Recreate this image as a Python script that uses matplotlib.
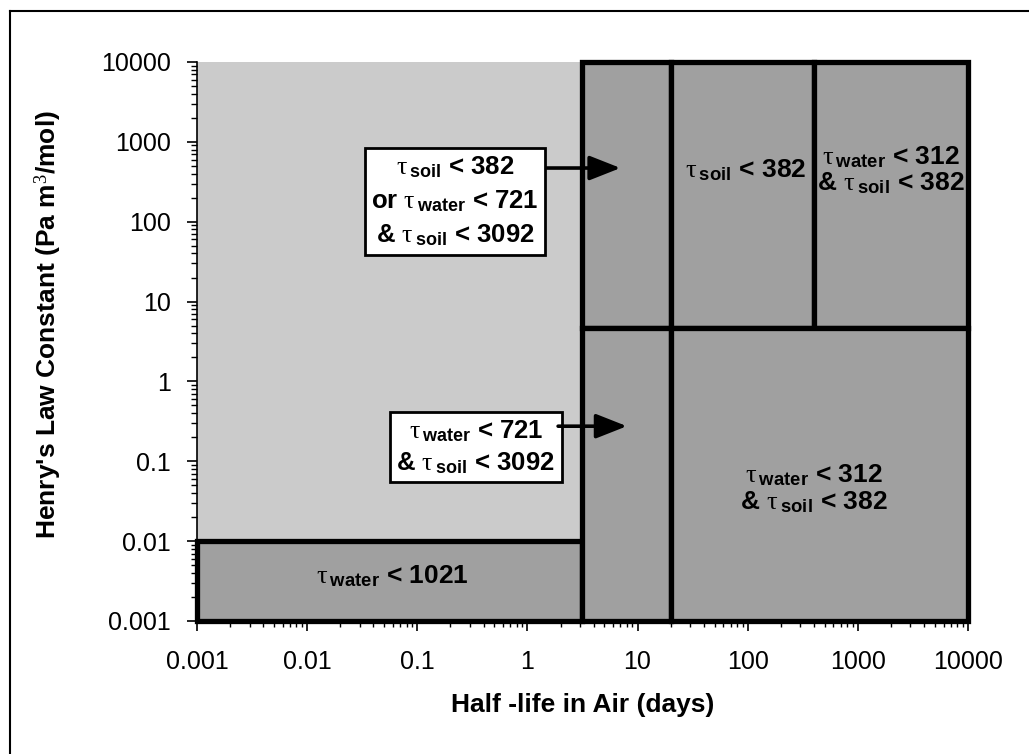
import matplotlib
matplotlib.use("Agg")
import matplotlib.pyplot as plt
from matplotlib.patches import Rectangle
from matplotlib.lines import Line2D
import numpy as np

# ---- data ----
x_ticks = [0.001, 0.01, 0.1, 1, 10, 100, 1000, 10000]
y_ticks = [0.001, 0.01, 0.1, 1, 10, 100, 1000, 10000]
x_tick_labels = ["0.001", "0.01", "0.1", "1", "10", "100", "1000", "10000"]
y_tick_labels = ["0.001", "0.01", "0.1", "1", "10", "100", "1000", "10000"]

# region boundaries
region_x0 = [0.001, 3.1, 20, 400, 3.1, 20]
region_x1 = [3.1, 20, 400, 10000, 20, 10000]
region_y0 = [0.001, 4.6, 4.6, 4.6, 0.001, 0.001]
region_y1 = [0.01, 10000, 10000, 10000, 4.6, 4.6]

T = r"$\mathrm{\tau}\,{}_{\mathbf{%s}}$"
label_x = [0.06, 95, 2000, 400]
label_y = [0.0036, 440, 440, 0.045]
label_text = [
    (T % "water") + " < 1021",
    (T % "soil") + " < 382",
    (T % "water") + " < 312\n& " + (T % "soil") + " < 382",
    (T % "water") + " < 312\n& " + (T % "soil") + " < 382",
]

box_text = [
    (T % "soil") + " < 382\nor " + (T % "water") + " < 721\n& " + (T % "soil") + " < 3092",
    (T % "water") + " < 721\n& " + (T % "soil") + " < 3092",
]
box_x = [0.22, 0.34]
box_y = [180, 0.15]
arrow_start_x = [1.5, 1.9]
arrow_start_y = [470, 0.275]
arrow_end_x = [7.0, 8.0]
arrow_end_y = [470, 0.275]

# ---- fonts ----
plt.rcParams["font.family"] = ["Liberation Sans", "DejaVu Sans"]
plt.rcParams["mathtext.fontset"] = "custom"
plt.rcParams["mathtext.rm"] = "Liberation Serif"
plt.rcParams["mathtext.bf"] = "Liberation Sans:bold"
plt.rcParams["mathtext.it"] = "Liberation Serif:italic"

LIGHT = "#cbcbcb"
DARK = "#a0a0a0"

fig = plt.figure(figsize=(10.29, 7.54), dpi=100)
ax = fig.add_axes([0.1914, 0.1764, 0.7493, 0.7414])
ax.set_xscale("log")
ax.set_yscale("log")
ax.set_xlim(0.001, 10000)
ax.set_ylim(0.001, 10000)
ax.set_facecolor(LIGHT)

for x0, x1, y0, y1 in zip(region_x0, region_x1, region_y0, region_y1):
    r = Rectangle((x0, y0), x1 - x0, y1 - y0, facecolor=DARK, edgecolor="black",
                  linewidth=3.8, clip_on=False, zorder=2)
    ax.add_patch(r)

for x, y, t in zip(label_x, label_y, label_text):
    ax.text(x, y, t, ha="center", va="center", fontsize=19, fontweight="bold",
            zorder=4, linespacing=1.05)

for t, bx, by, ls in zip(box_text, box_x, box_y, [1.42, 1.3]):
    ax.text(bx, by, t, ha="center", va="center", fontsize=18.5, fontweight="bold",
            zorder=5, linespacing=ls,
            bbox=dict(boxstyle="square,pad=0.25", facecolor="white", edgecolor="black", linewidth=2))

for sx, sy, ex, ey in zip(arrow_start_x, arrow_start_y, arrow_end_x, arrow_end_y):
    ax.annotate("", xy=(ex, ey), xytext=(sx, sy), zorder=6,
                arrowprops=dict(arrowstyle="-|>,head_length=1.9,head_width=0.75",
                                color="black", lw=2.6, shrinkA=0, shrinkB=0))

ax.spines["top"].set_visible(False)
ax.spines["right"].set_visible(False)
ax.spines["left"].set_linewidth(1.2)
ax.spines["bottom"].set_linewidth(1.2)

ax.set_xticks(x_ticks)
ax.set_xticklabels(x_tick_labels)
ax.set_yticks(y_ticks)
ax.set_yticklabels(y_tick_labels)
ax.xaxis.set_minor_locator(matplotlib.ticker.LogLocator(base=10, subs=np.arange(2, 10)))
ax.yaxis.set_minor_locator(matplotlib.ticker.LogLocator(base=10, subs=np.arange(2, 10)))
ax.xaxis.set_minor_formatter(matplotlib.ticker.NullFormatter())
ax.yaxis.set_minor_formatter(matplotlib.ticker.NullFormatter())
ax.tick_params(which="major", direction="out", length=7, width=1.2, labelsize=18, pad=14)
ax.tick_params(which="minor", direction="out", length=4, width=1.0)
ax.tick_params(axis="y", pad=12)

ax.set_xlabel("Half -life in Air (days)", fontsize=19, fontweight="bold")
ax.set_ylabel("Henry's Law Constant (Pa m$^{3}$/mol)", fontsize=19, fontweight="bold")
ax.xaxis.set_label_coords(0.5, -0.150)
ax.xaxis.label.set_va("center")
ax.yaxis.set_label_coords(-0.193, 0.53)
ax.yaxis.label.set_va("center")

# outer frame
fig.add_artist(Line2D([10 / 1029, 10 / 1029], [0, 1 - 11 / 754], color="black", lw=1.5))
fig.add_artist(Line2D([10 / 1029, 1], [1 - 11 / 754, 1 - 11 / 754], color="black", lw=1.5))

fig.savefig("out.png", dpi=100)
